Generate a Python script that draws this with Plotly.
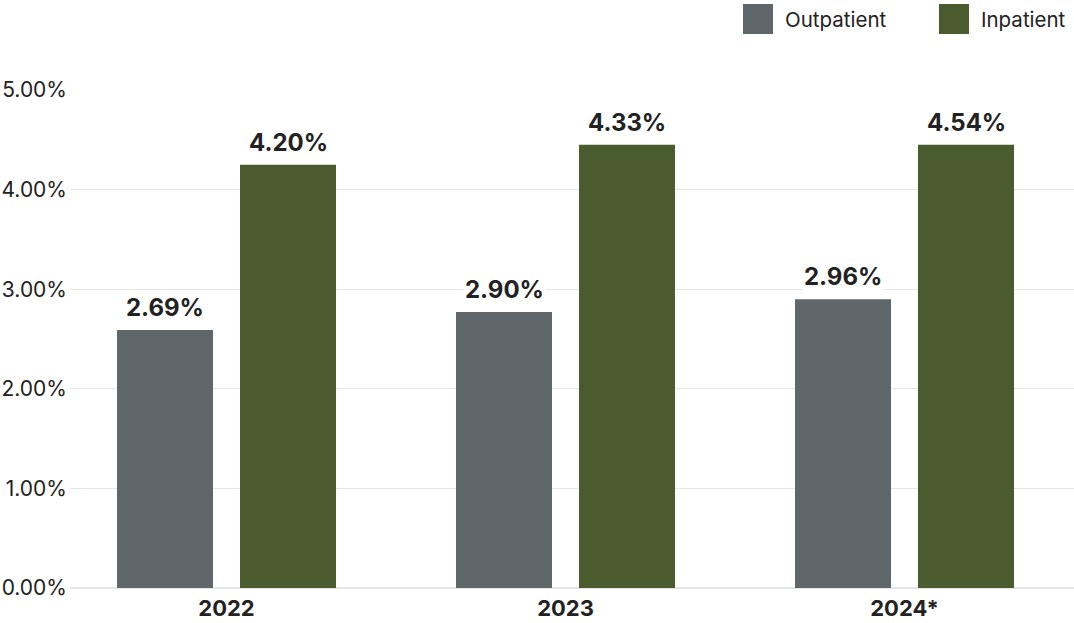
import plotly.graph_objects as go

YEARS = ["2022", "2023", "2024*"]
OUTPATIENT = [2.59, 2.77, 2.90]          # bar heights as drawn
INPATIENT = [4.25, 4.45, 4.45]
OUT_LABELS = ["2.69%", "2.90%", "2.96%"]  # printed labels
IN_LABELS = ["4.20%", "4.33%", "4.54%"]
Y_TICKS = [0, 1, 2, 3, 4, 5]

GRAY, GREEN = "#5f676a", "#4a5c2d"
INK = "#222222"
FONT = "Inter, Lato, Roboto, sans-serif"

x = list(range(len(YEARS)))
fig = go.Figure()
fig.add_trace(go.Bar(x=x, y=OUTPATIENT, name="Outpatient", marker_color=GRAY,
                     marker_line_width=0, showlegend=False, hoverinfo="skip"))
fig.add_trace(go.Bar(x=x, y=INPATIENT, name="Inpatient", marker_color=GREEN,
                     marker_line_width=0, showlegend=False, hoverinfo="skip"))

# value labels above bars (white box breaks the gridline like the original)
BAR_OFF = 0.1814  # bar centre offset from the category centre
for i in x:
    for dx, yv, lab in ((-BAR_OFF, OUTPATIENT[i], OUT_LABELS[i]),
                        (BAR_OFF, INPATIENT[i], IN_LABELS[i])):
        fig.add_annotation(x=i + dx, y=yv, text=f"<b>{lab}</b>", showarrow=False,
                           yanchor="bottom", yshift=6, bgcolor="white", borderpad=1,
                           font=dict(family=FONT, size=24, color=INK))

# legend drawn by hand (big square swatches)
for x0, col, name in ((0.6703, GRAY, "Outpatient"), (0.8655, GREEN, "Inpatient")):
    fig.add_shape(type="rect", xref="paper", yref="paper", x0=x0, x1=x0 + 0.0299,
                  y0=1.1124, y1=1.1727, fillcolor=col, line_width=0)
    fig.add_annotation(xref="paper", yref="paper", x=x0 + 0.040, y=1.1425,
                       xanchor="left", yanchor="middle", text=name, showarrow=False,
                       font=dict(family=FONT, size=20.5, color=INK))

fig.update_layout(
    width=1074, height=623, margin=dict(l=70, r=0, t=90, b=35),
    barmode="group", bargap=0.2743, bargroupgap=0.2195,
    paper_bgcolor="white", plot_bgcolor="white",
    font=dict(family=FONT, color=INK),
)
fig.update_xaxes(range=[-0.4617, 2.5], tickvals=x,
                 ticktext=[f"<b>{y}</b>" for y in YEARS],
                 tickfont=dict(size=22, color=INK), showgrid=False,
                 showline=False, zeroline=False, ticks="", automargin=False,
                 ticklabelstandoff=5)
fig.update_yaxes(range=[0, 5], tickvals=Y_TICKS,
                 ticktext=[f"{v:.2f}%" for v in Y_TICKS],
                 tickfont=dict(size=21, color=INK), gridcolor="#e6e6e6",
                 gridwidth=1, zeroline=True, zerolinecolor="#e6e6e6",
                 showline=False, ticks="", ticklabelstandoff=2, automargin=False)

# drop the browser's default body margin so the figure fills the window
fig.write_html("out.html", config={"displayModeBar": False},
               post_script="document.body.style.margin='0';")
